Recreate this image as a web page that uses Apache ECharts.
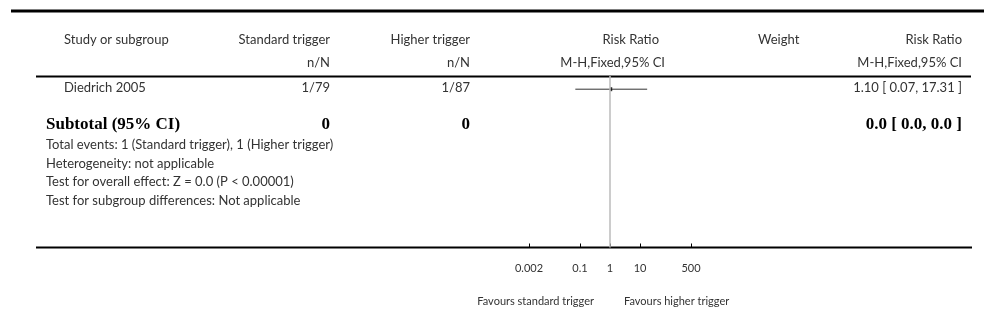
<!DOCTYPE html>
<html>
<head>
<meta charset="utf-8">
<script src="https://cdn.jsdelivr.net/npm/echarts@6/dist/echarts.min.js"></script>
<style>
html,body{margin:0;padding:0;background:#fff;}
#chart{width:985px;height:331px;}
</style>
</head>
<body>
<div id="chart"></div>
<script>
// ---- data ----
var studies = ['Diedrich 2005'];
var stdEvents = [1];
var stdTotal = [79];
var hiEvents = [1];
var hiTotal = [87];
var riskRatio = [1.10];
var ciLow = [0.07];
var ciHigh = [17.31];
var rrText = ['1.10 [ 0.07, 17.31 ]'];
var subtotalStd = '0';
var subtotalHi = '0';
var subtotalRR = '0.0 [ 0.0, 0.0 ]';
var footnotes = [
  'Total events: 1 (Standard trigger), 1 (Higher trigger)',
  'Heterogeneity: not applicable',
  'Test for overall effect: Z = 0.0 (P < 0.00001)',
  'Test for subgroup differences: Not applicable'
];
var tickValues = [0.002, 0.1, 1, 10, 500];
var tickLabels = ['0.002', '0.1', '1', '10', '500'];
var favoursLeft = 'Favours standard trigger';
var favoursRight = 'Favours higher trigger';

// ---- layout ----
var FONT = 'Lato, "Open Sans", sans-serif';
var TXT = '#333';
function t(x, y, s, align, extra) {
  var st = {text: s, x: x, y: y, textAlign: align || 'left', textVerticalAlign: 'middle',
            fill: TXT, font: '13px ' + FONT};
  if (extra) for (var k in extra) st[k] = extra[k];
  return {type: 'text', silent: true, style: st};
}
function hline(x1, x2, y, w, c) {
  return {type: 'line', silent: true, shape: {x1: x1, y1: y, x2: x2, y2: y},
          style: {stroke: c || '#000', lineWidth: w}};
}

var g = [];
g.push(hline(11, 984, 11, 3));
g.push(hline(36, 971, 76.5, 2));
g.push(hline(36, 972, 247.5, 2));
// headers
g.push(t(64, 40, 'Study or subgroup'));
g.push(t(330, 40, 'Standard trigger', 'right'));
g.push(t(470, 40, 'Higher trigger', 'right'));
g.push(t(659, 40, 'Risk Ratio', 'right'));
g.push(t(758, 40, 'Weight'));
g.push(t(962, 40, 'Risk Ratio', 'right'));
g.push(t(330, 63, 'n/N', 'right'));
g.push(t(470, 63, 'n/N', 'right'));
g.push(t(665, 63, 'M-H,Fixed,95% CI', 'right'));
g.push(t(962, 63, 'M-H,Fixed,95% CI', 'right'));
// study rows
studies.forEach(function (s, i) {
  var y = 88 + i * 20;
  g.push(t(64, y, s));
  g.push(t(330, y, stdEvents[i] + '/' + stdTotal[i], 'right'));
  g.push(t(470, y, hiEvents[i] + '/' + hiTotal[i], 'right'));
  g.push(t(962, y, rrText[i], 'right'));
});
var BOLD = {font: 'bold 17px "Liberation Serif", "Times New Roman", serif', fill: '#000'};
g.push(t(46, 125, 'Subtotal (95% CI)', 'left', BOLD));
g.push(t(330, 125, subtotalStd, 'right', BOLD));
g.push(t(470, 125, subtotalHi, 'right', BOLD));
g.push(t(962, 125, subtotalRR, 'right', BOLD));
var fy = [145, 163.5, 182, 200.5];
footnotes.forEach(function (s, i) { g.push(t(46, fy[i], s)); });
g.push(t(594, 301, favoursLeft, 'right', {font: '11px ' + FONT}));
g.push(t(624, 301, favoursRight, 'left', {font: '11px ' + FONT}));

var lineData = studies.map(function (s, i) { return [[ciLow[i], i + 1], [ciHigh[i], i + 1]]; });

var series = [];
lineData.forEach(function (d, i) {
  series.push({
    type: 'line', data: d, symbol: 'none', silent: true,
    lineStyle: {color: '#333', width: 1}, z: 3,
    markLine: i === 0 ? {
      symbol: 'none', silent: true, label: {show: false},
      lineStyle: {color: '#bbb', width: 1.5, type: 'solid'},
      data: [{xAxis: 1}]
    } : undefined
  });
});
series.push({
  type: 'scatter', symbol: 'rect', symbolSize: [2, 4], silent: true, z: 4,
  itemStyle: {color: '#000'},
  data: riskRatio.map(function (v, i) { return [v, i + 1]; })
});

var chart = echarts.init(document.getElementById('chart'));
chart.setOption({
  animation: false,
  grid: {left: 529, right: 294, top: 76, bottom: 83.5, containLabel: false},
  xAxis: {
    type: 'log', logBase: 10, min: 0.002, max: 500, position: 'bottom',
    axisLine: {show: false, onZero: false},
    splitLine: {show: false},
    axisTick: {show: true, inside: true, length: 4, customValues: tickValues,
               lineStyle: {color: '#000', width: 1}},
    axisLabel: {show: true, customValues: tickValues, margin: 15, fontSize: 11,
                fontFamily: FONT, color: TXT,
                formatter: function (v) {
                  for (var i = 0; i < tickValues.length; i++) {
                    if (Math.abs(Math.log10(v) - Math.log10(tickValues[i])) < 1e-6) return tickLabels[i];
                  }
                  return '';
                }}
  },
  yAxis: {type: 'value', inverse: true, min: 0, max: 13, show: false},
  series: series,
  graphic: g
});
</script>
</body>
</html>
